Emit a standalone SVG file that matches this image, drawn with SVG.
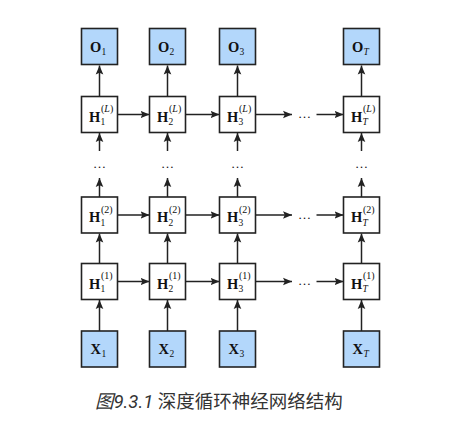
<svg xmlns="http://www.w3.org/2000/svg" width="452" height="432" viewBox="0 0 452 432">
<style>
.box{stroke:#222;stroke-width:1.6;}
.io{fill:#b3d7fb;}
.h{fill:#fff;}
.lbl{font-family:"Liberation Serif",serif;font-weight:bold;font-size:14.5px;fill:#111;}
.sub{font-family:"Liberation Serif",serif;font-size:9.5px;fill:#111;}
.sup{font-family:"Liberation Serif",serif;font-size:10px;fill:#111;}
.it{font-style:italic;}
.dots{font-family:"Liberation Serif",serif;font-size:13px;fill:#111;}
.ar{stroke:#222;stroke-width:1.5;fill:none;marker-end:url(#ah);}
.cap{font-family:Roboto,"Noto Sans CJK SC",sans-serif;font-size:18.5px;fill:#333;}
</style>
<defs>
<marker id="ah" markerUnits="userSpaceOnUse" markerWidth="11" markerHeight="9" refX="9" refY="4.5" orient="auto">
<path d="M0,0.7 L9,4.5 L0,8.3 L1.8,4.5 z" fill="#222"/>
</marker>
</defs>
<rect width="452" height="432" fill="#fff"/>

<g id="connectors">
<line class="ar" x1="99.5" y1="96" x2="99.5" y2="65.5"/>
<line class="ar" x1="167.5" y1="96" x2="167.5" y2="65.5"/>
<line class="ar" x1="237.5" y1="96" x2="237.5" y2="65.5"/>
<line class="ar" x1="361.5" y1="96" x2="361.5" y2="65.5"/>
<line class="ar" x1="99.5" y1="151" x2="99.5" y2="133"/>
<line class="ar" x1="167.5" y1="151" x2="167.5" y2="133"/>
<line class="ar" x1="237.5" y1="151" x2="237.5" y2="133"/>
<line class="ar" x1="361.5" y1="151" x2="361.5" y2="133"/>
<line class="ar" x1="99.5" y1="197" x2="99.5" y2="178"/>
<line class="ar" x1="167.5" y1="197" x2="167.5" y2="178"/>
<line class="ar" x1="237.5" y1="197" x2="237.5" y2="178"/>
<line class="ar" x1="361.5" y1="197" x2="361.5" y2="178"/>
<line class="ar" x1="99.5" y1="263.5" x2="99.5" y2="233.5"/>
<line class="ar" x1="167.5" y1="263.5" x2="167.5" y2="233.5"/>
<line class="ar" x1="237.5" y1="263.5" x2="237.5" y2="233.5"/>
<line class="ar" x1="361.5" y1="263.5" x2="361.5" y2="233.5"/>
<line class="ar" x1="99.5" y1="331" x2="99.5" y2="300"/>
<line class="ar" x1="167.5" y1="331" x2="167.5" y2="300"/>
<line class="ar" x1="237.5" y1="331" x2="237.5" y2="300"/>
<line class="ar" x1="361.5" y1="331" x2="361.5" y2="300"/>
<line class="ar" x1="117.5" y1="114.5" x2="149.5" y2="114.5"/>
<line class="ar" x1="185.5" y1="114.5" x2="219.5" y2="114.5"/>
<line class="ar" x1="255.5" y1="114.5" x2="292" y2="114.5"/>
<line class="ar" x1="316.5" y1="114.5" x2="343.5" y2="114.5"/>
<line class="ar" x1="117.5" y1="215" x2="149.5" y2="215"/>
<line class="ar" x1="185.5" y1="215" x2="219.5" y2="215"/>
<line class="ar" x1="255.5" y1="215" x2="292" y2="215"/>
<line class="ar" x1="316.5" y1="215" x2="343.5" y2="215"/>
<line class="ar" x1="117.5" y1="281.5" x2="149.5" y2="281.5"/>
<line class="ar" x1="185.5" y1="281.5" x2="219.5" y2="281.5"/>
<line class="ar" x1="255.5" y1="281.5" x2="292" y2="281.5"/>
<line class="ar" x1="316.5" y1="281.5" x2="343.5" y2="281.5"/>
</g>

<g id="ellipses">
<text class="dots" x="99.5" y="168" text-anchor="middle">…</text>
<text class="dots" x="167.5" y="168" text-anchor="middle">…</text>
<text class="dots" x="237.5" y="168" text-anchor="middle">…</text>
<text class="dots" x="361.5" y="168" text-anchor="middle">…</text>
<text class="dots" x="304.5" y="118" text-anchor="middle">…</text>
<text class="dots" x="304.5" y="218.5" text-anchor="middle">…</text>
<text class="dots" x="304.5" y="285" text-anchor="middle">…</text>
</g>

<g id="O1"><rect class="box io" x="81.5" y="28.5" width="36" height="36"/><text class="lbl" x="90" y="51.5">O</text><text class="sub" x="101.5" y="54.5">1</text></g>
<g id="O2"><rect class="box io" x="149.5" y="28.5" width="36" height="36"/><text class="lbl" x="158" y="51.5">O</text><text class="sub" x="169.5" y="54.5">2</text></g>
<g id="O3"><rect class="box io" x="219.5" y="28.5" width="36" height="36"/><text class="lbl" x="228" y="51.5">O</text><text class="sub" x="239.5" y="54.5">3</text></g>
<g id="OT"><rect class="box io" x="343.5" y="28.5" width="36" height="36"/><text class="lbl" x="352" y="51.5">O</text><text class="sub it" x="363.5" y="54.5">T</text></g>

<g id="HL1"><rect class="box h" x="81.5" y="96.5" width="36" height="36"/><text class="lbl" x="89" y="121.5">H</text><text class="sub" x="100.5" y="125">1</text><text class="sup" x="101" y="112">(<tspan class="it">L</tspan>)</text></g>
<g id="HL2"><rect class="box h" x="149.5" y="96.5" width="36" height="36"/><text class="lbl" x="157" y="121.5">H</text><text class="sub" x="168.5" y="125">2</text><text class="sup" x="169" y="112">(<tspan class="it">L</tspan>)</text></g>
<g id="HL3"><rect class="box h" x="219.5" y="96.5" width="36" height="36"/><text class="lbl" x="227" y="121.5">H</text><text class="sub" x="238.5" y="125">3</text><text class="sup" x="239" y="112">(<tspan class="it">L</tspan>)</text></g>
<g id="HLT"><rect class="box h" x="343.5" y="96.5" width="36" height="36"/><text class="lbl" x="351" y="121.5">H</text><text class="sub it" x="362.5" y="125">T</text><text class="sup" x="363" y="112">(<tspan class="it">L</tspan>)</text></g>

<g id="H21"><rect class="box h" x="81.5" y="197" width="36" height="36"/><text class="lbl" x="89" y="222">H</text><text class="sub" x="100.5" y="225.5">1</text><text class="sup" x="101" y="212.5">(2)</text></g>
<g id="H22"><rect class="box h" x="149.5" y="197" width="36" height="36"/><text class="lbl" x="157" y="222">H</text><text class="sub" x="168.5" y="225.5">2</text><text class="sup" x="169" y="212.5">(2)</text></g>
<g id="H23"><rect class="box h" x="219.5" y="197" width="36" height="36"/><text class="lbl" x="227" y="222">H</text><text class="sub" x="238.5" y="225.5">3</text><text class="sup" x="239" y="212.5">(2)</text></g>
<g id="H2T"><rect class="box h" x="343.5" y="197" width="36" height="36"/><text class="lbl" x="351" y="222">H</text><text class="sub it" x="362.5" y="225.5">T</text><text class="sup" x="363" y="212.5">(2)</text></g>

<g id="H11"><rect class="box h" x="81.5" y="263.5" width="36" height="36"/><text class="lbl" x="89" y="288.5">H</text><text class="sub" x="100.5" y="292">1</text><text class="sup" x="101" y="279">(1)</text></g>
<g id="H12"><rect class="box h" x="149.5" y="263.5" width="36" height="36"/><text class="lbl" x="157" y="288.5">H</text><text class="sub" x="168.5" y="292">2</text><text class="sup" x="169" y="279">(1)</text></g>
<g id="H13"><rect class="box h" x="219.5" y="263.5" width="36" height="36"/><text class="lbl" x="227" y="288.5">H</text><text class="sub" x="238.5" y="292">3</text><text class="sup" x="239" y="279">(1)</text></g>
<g id="H1T"><rect class="box h" x="343.5" y="263.5" width="36" height="36"/><text class="lbl" x="351" y="288.5">H</text><text class="sub it" x="362.5" y="292">T</text><text class="sup" x="363" y="279">(1)</text></g>

<g id="X1"><rect class="box io" x="81.5" y="331" width="36" height="36"/><text class="lbl" x="90.5" y="354">X</text><text class="sub" x="101.5" y="357">1</text></g>
<g id="X2"><rect class="box io" x="149.5" y="331" width="36" height="36"/><text class="lbl" x="158.5" y="354">X</text><text class="sub" x="169.5" y="357">2</text></g>
<g id="X3"><rect class="box io" x="219.5" y="331" width="36" height="36"/><text class="lbl" x="228.5" y="354">X</text><text class="sub" x="239.5" y="357">3</text></g>
<g id="XT"><rect class="box io" x="343.5" y="331" width="36" height="36"/><text class="lbl" x="352.5" y="354">X</text><text class="sub it" x="363.5" y="357">T</text></g>

<g id="caption"><text class="cap" x="95" y="408"><tspan font-style="italic">图9.3.1</tspan> 深度循环神经网络结构</text></g>
</svg>
